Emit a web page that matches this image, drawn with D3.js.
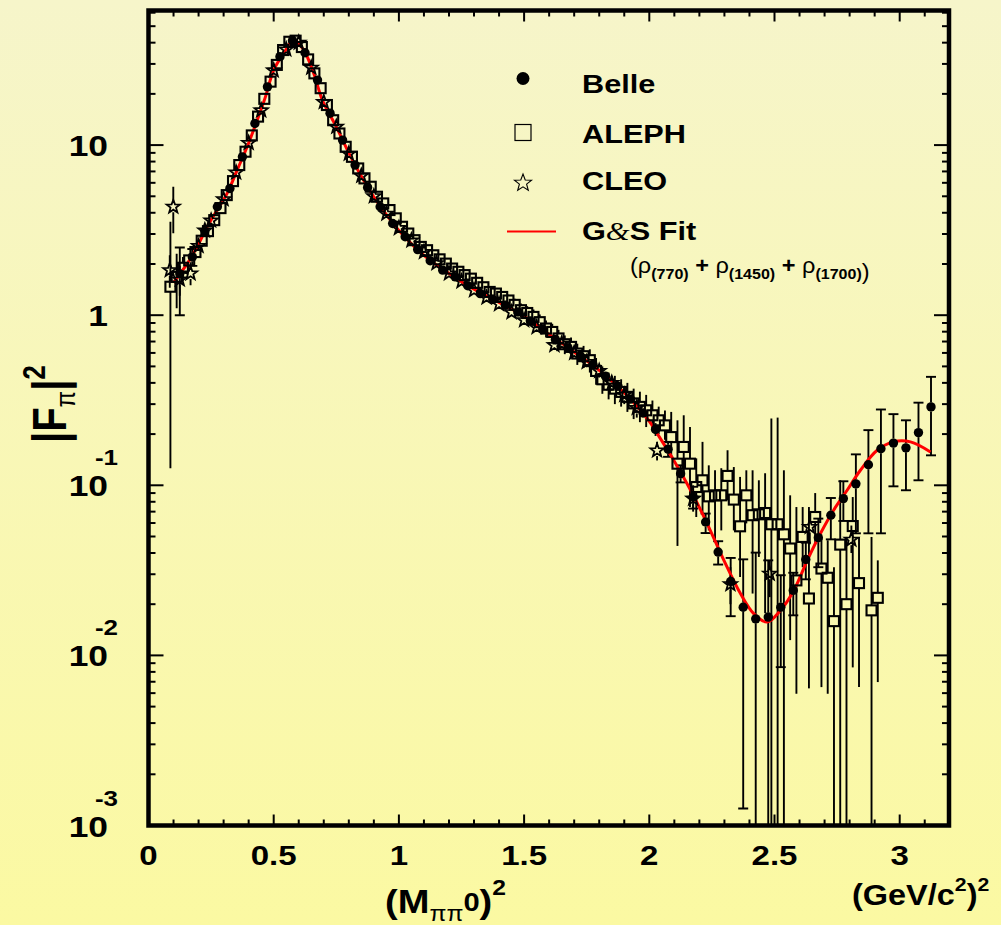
<!DOCTYPE html>
<html><head><meta charset="utf-8">
<script src="https://cdn.jsdelivr.net/npm/d3@7"></script>
<style>html,body{margin:0;padding:0;} svg{display:block;}</style>
</head><body><svg id="c" width="1001" height="925"></svg>
<script>
// ---------------- data ----------------
const fitX=[0.10,0.125,0.155,0.194,0.234,0.274,0.314,0.354,0.394,0.434,0.467,0.500,0.540,0.580,0.620,0.660,0.694,0.75,0.80,0.85,0.90,0.95,1.00,1.10,1.20,1.30,1.40,1.50,1.60,1.70,1.80,1.90,2.00,2.032,2.098,2.165,2.231,2.298,2.364,2.417,2.471,2.524,2.577,2.631,2.684,2.736,2.790,2.843,2.910,2.975,3.043,3.123];
const fitY=[1.55,1.75,2.01,2.52,3.3,4.15,5.2,7.13,9.77,14.0,19.2,27.6,34.6,41.5,36.2,26.4,18.4,12.8,9.0,6.55,4.95,3.9,3.15,2.25,1.76,1.42,1.19,0.985,0.77,0.608,0.474,0.35,0.238,0.201,0.140,0.0935,0.0596,0.0362,0.0231,0.0176,0.0157,0.0184,0.0241,0.0362,0.0522,0.0713,0.0935,0.1226,0.1607,0.18,0.18,0.157];

const belleX=[0.125,0.175,0.225,0.275,0.325,0.375,0.425,0.475,0.525,0.575,0.625,0.675,0.725,0.775,0.825,0.875,0.925,0.975,1.025,1.075,1.125,1.175,1.225,1.275,1.325,1.375,1.425,1.475,1.525,1.575,1.625,1.675,1.725,1.775,1.825,1.875,1.925,1.975,2.025,2.075,2.125,2.175,2.225,2.275,2.325,2.375,2.425,2.475,2.525,2.575,2.625,2.675,2.725,2.775,2.825,2.875,2.925,2.975,3.025,3.075,3.125];
const belleY=[1.75,2.2,3.1,4.34,5.56,8.53,13.4,22.0,33.1,41.1,34.9,24.1,15.4,10.7,7.63,5.64,4.34,3.46,2.89,2.43,2.09,1.84,1.68,1.49,1.34,1.237,1.145,1.046,0.926,0.824,0.72,0.645,0.574,0.513,0.438,0.382,0.321,0.266,0.213,0.163,0.117,0.0853,0.0608,0.0405,0.0272,0.0192,0.0164,0.0168,0.0192,0.0241,0.0366,0.0492,0.0667,0.0835,0.102,0.132,0.164,0.177,0.166,0.204,0.289];
const belleLo=[1.0,1.95,2.95,4.2,5.45,8.4,13.2,21.7,32.7,40.6,34.5,23.8,15.2,10.55,7.5,5.55,4.27,3.4,2.84,2.39,2.05,1.81,1.65,1.46,1.31,1.21,1.12,1.02,0.90,0.80,0.70,0.625,0.555,0.495,0.42,0.365,0.305,0.25,0.195,0.147,0.104,0.073,0.0524,0.0342,0.017,0.00126,0.0001,0.0001,0.00853,0.0172,0.028,0.033,0.0481,0.0617,0.0522,0.0522,0.0522,0.0986,0.0935,0.107,0.15];
const belleHi=[2.5,2.45,3.25,4.5,5.7,8.7,13.6,22.3,33.5,41.6,35.3,24.4,15.6,10.85,7.75,5.73,4.41,3.52,2.94,2.47,2.13,1.87,1.71,1.52,1.37,1.265,1.17,1.07,0.95,0.85,0.74,0.665,0.593,0.531,0.456,0.40,0.337,0.282,0.232,0.18,0.131,0.098,0.0682,0.0469,0.0374,0.0367,0.0402,0.0362,0.0296,0.0306,0.046,0.0637,0.0842,0.1056,0.152,0.211,0.279,0.262,0.241,0.306,0.434];

const alephX=[0.0875,0.1125,0.1375,0.1625,0.1875,0.2125,0.2375,0.2625,0.2875,0.3125,0.3375,0.3625,0.3875,0.4125,0.4375,0.4625,0.4875,0.5125,0.5375,0.5625,0.5875,0.6125,0.6375,0.6625,0.6875,0.7125,0.7375,0.7625,0.7875,0.8125,0.8375,0.8625,0.8875,0.9125,0.9375,0.9625,0.9875,1.0125,1.0375,1.0625,1.0875,1.1125,1.1375,1.1625,1.1875,1.2125,1.2375,1.2625,1.2875,1.3125,1.3375,1.3625,1.3875,1.4125,1.4375,1.4625,1.4875,1.5125,1.5375,1.5625,1.5875,1.6125,1.6375,1.6625,1.6875,1.7125,1.7375,1.7625,1.7875,1.8125,1.8375,1.8625,1.8875,1.9125,1.9375,1.9625,1.9875,2.0125,2.0375,2.0625,2.0875,2.1125,2.1375,2.1625,2.1875,2.2125,2.2375,2.2625,2.2875,2.3125,2.3375,2.3625,2.3875,2.4125,2.4375,2.4625,2.4875,2.5125,2.5375,2.5625,2.5875,2.6125,2.6375,2.6625,2.6875,2.7125,2.7375,2.7625,2.7875,2.8125,2.8375,2.8875,2.9125];
const alephY=[1.47,1.68,1.9,2.1,2.35,2.74,3.12,3.62,4.26,5.08,6.14,7.63,9.14,11.4,14.7,18.7,23.6,29.6,36.2,40.5,41.1,37.7,31.9,26.4,21.6,17.2,14.0,11.7,9.77,8.53,7.29,6.37,5.69,4.97,4.54,4.15,3.71,3.31,3.02,2.76,2.52,2.41,2.25,2.13,2.01,1.88,1.80,1.72,1.64,1.55,1.46,1.37,1.34,1.28,1.22,1.15,1.07,1.03,0.977,0.91,0.835,0.797,0.73,0.675,0.651,0.595,0.574,0.544,0.47,0.42,0.39,0.37,0.354,0.331,0.303,0.289,0.276,0.258,0.241,0.225,0.192,0.134,0.168,0.134,0.0977,0.107,0.0861,0.0873,0.0873,0.1135,0.0824,0.0574,0.0873,0.0667,0.0675,0.0687,0.059,0.059,0.0515,0.0425,0.0276,0.0497,0.0216,0.0651,0.0324,0.0286,0.0159,0.0448,0.02,0.0576,0.0266,0.0184,0.0218];
const alephLo=[0.126,1.1,1.6,1.95,2.25,2.65,3.03,3.52,4.15,4.95,6.0,7.45,8.95,11.2,14.4,18.4,23.2,29.1,35.6,39.9,40.5,37.1,31.4,26.0,21.2,16.9,13.75,11.45,9.55,8.33,7.1,6.2,5.53,4.82,4.4,4.02,3.59,3.2,2.92,2.66,2.43,2.32,2.16,2.04,1.92,1.79,1.71,1.63,1.55,1.46,1.37,1.28,1.24,1.18,1.12,1.05,0.97,0.93,0.87,0.81,0.74,0.70,0.64,0.59,0.56,0.51,0.49,0.46,0.39,0.345,0.32,0.30,0.29,0.27,0.245,0.235,0.22,0.21,0.2,0.185,0.1466,0.044,0.112,0.0745,0.0651,0.0687,0.0543,0.0475,0.0543,0.0816,0.0543,0.0289,0.0597,0.0231,0.0379,0.0177,0.0001,0.0001,0.0001,0.0123,0.00595,0.033,0.0064,0.045,0.00651,0.00595,0.0001,0.0001,0.0001,0.0085,0.00651,0.0001,0.00697];
const alephHi=[3.54,2.3,2.2,2.25,2.45,2.83,3.21,3.72,4.37,5.21,6.28,7.81,9.33,11.6,15.0,19.0,24.0,30.1,36.8,41.1,41.7,38.3,32.4,26.8,22.0,17.5,14.25,11.95,9.99,8.73,7.48,6.54,5.85,5.12,4.68,4.28,3.83,3.42,3.12,2.86,2.61,2.5,2.34,2.22,2.1,1.97,1.89,1.81,1.73,1.64,1.55,1.46,1.44,1.38,1.32,1.25,1.17,1.13,1.08,1.01,0.93,0.89,0.82,0.76,0.74,0.68,0.66,0.63,0.56,0.5,0.46,0.44,0.42,0.40,0.37,0.355,0.34,0.315,0.29,0.275,0.27,0.241,0.258,0.22,0.144,0.18,0.131,0.1225,0.126,0.1607,0.128,0.112,0.1225,0.1225,0.107,0.1177,0.247,0.25,0.1225,0.0873,0.0745,0.0745,0.0745,0.09,0.0497,0.0475,0.033,0.107,0.0497,0.0853,0.0497,0.0497,0.0362];

const cleoX=[0.085,0.099,0.125,0.168,0.2,0.225,0.25,0.3,0.35,0.4,0.45,0.5,0.55,0.6,0.65,0.7,0.75,0.8,0.85,0.9,0.95,1.0,1.05,1.1,1.15,1.2,1.25,1.3,1.35,1.4,1.45,1.5,1.55,1.621,1.65,1.7,1.75,1.8,1.85,1.9,1.95,2.031,2.175,2.324,2.481,2.641,2.807];
const cleoY=[1.84,4.34,1.62,1.76,2.55,3.15,3.6,4.8,6.9,10.3,16.0,27.5,36.5,40.0,28.5,17.9,12.8,8.9,6.6,5.0,3.95,3.25,2.75,2.35,2.02,1.76,1.58,1.40,1.27,1.16,1.04,0.935,0.85,0.667,0.68,0.60,0.53,0.47,0.40,0.34,0.285,0.16,0.0835,0.0262,0.0302,0.0569,0.0479];
const cleoLo=[1.45,3.03,1.3,1.5,2.4,3.0,3.45,4.65,6.7,10.0,15.6,26.9,35.8,39.2,27.9,17.5,12.5,8.7,6.45,4.88,3.85,3.17,2.68,2.29,1.97,1.71,1.53,1.36,1.23,1.12,1.0,0.90,0.81,0.63,0.64,0.56,0.49,0.43,0.36,0.30,0.25,0.14,0.07,0.02,0.022,0.045,0.04];
const cleoHi=[2.25,5.69,1.95,2.05,2.7,3.3,3.75,4.95,7.1,10.6,16.4,28.1,37.2,40.8,29.1,18.3,13.1,9.1,6.75,5.12,4.05,3.33,2.82,2.41,2.07,1.81,1.63,1.44,1.31,1.2,1.08,0.97,0.89,0.70,0.72,0.64,0.57,0.51,0.44,0.38,0.32,0.18,0.1,0.033,0.036,0.07,0.058];

const xMajor=[0,0.5,1,1.5,2,2.5,3];
const xMajorLabels=["0","0.5","1","1.5","2","2.5","3"];
const yDecades=[1e-3,1e-2,1e-1,1,10];
const yBaseLabels=["10","10","10","1","10"];
const yExpLabels=["-3","-2","-1","",""];
const legendNames=["Belle","ALEPH","CLEO","G&S Fit"];

// ---------------- layout ----------------
const W=1001,H=925;
const L=148.5,R=949,T=10.5,B=825.5;
const SX=1.18;
const FONT="'Liberation Sans', Arial, Helvetica, sans-serif";
const svg=d3.select("#c");

const defs=svg.append("defs");
const grad=defs.append("linearGradient").attr("id","bg").attr("x1",0).attr("y1",0).attr("x2",0).attr("y2",1);
grad.append("stop").attr("offset","0%").attr("stop-color","#F6F5CA");
grad.append("stop").attr("offset","100%").attr("stop-color","#FBF9A2");
svg.append("rect").attr("width",W).attr("height",H).attr("fill","url(#bg)");
defs.append("clipPath").attr("id","clip").append("rect").attr("x",L).attr("y",T).attr("width",R-L).attr("height",B-T);

const x=d3.scaleLinear().domain([0,3.2]).range([L,L+3.2*250.4]);
const y=d3.scaleLog().domain([1e-3,Math.pow(10,1+(145-T)/170)]).range([B,T]);

// ticks
const tk=svg.append("g").attr("stroke","#000").attr("stroke-width",2);
d3.range(0,33).forEach(i=>{
  const v=i/10, maj=(i%5===0), len=maj?11:6, px=x(v);
  if(px>R-2) return;
  tk.append("line").attr("x1",px).attr("x2",px).attr("y1",B).attr("y2",B-len);
  tk.append("line").attr("x1",px).attr("x2",px).attr("y1",T).attr("y2",T+len);
});
const yDom=y.domain();
for(let e=-3;e<=1;e++){
  for(let m=1;m<=9;m++){
    const v=m*Math.pow(10,e);
    if(v<yDom[0]||v>yDom[1]) continue;
    const py=y(v), len=(m===1)?15:7;
    tk.append("line").attr("x1",L).attr("x2",L+len).attr("y1",py).attr("y2",py);
    tk.append("line").attr("x1",R).attr("x2",R-len).attr("y1",py).attr("y2",py);
  }
}

function txt(xp,yp,str,size,anchor,weight,sx){
  return svg.append("text").attr("transform",`translate(${xp},${yp}) scale(${sx||SX},1)`)
    .attr("text-anchor",anchor||"start").attr("font-family",FONT).attr("font-weight",weight||"bold")
    .attr("font-size",size).attr("fill","#000").text(str);
}
// x tick labels
xMajor.forEach((v,i)=>txt(x(v),865,xMajorLabels[i],28,"middle"));
// y tick labels
yDecades.forEach((v,i)=>{
  const py=y(v);
  const by = (i===0)? 837 : py+11;
  txt(108,by,yBaseLabels[i],30,"end");
  if(yExpLabels[i]) txt(118,py-20,yExpLabels[i],22,"end");
});

// plot content
const pg=svg.append("g").attr("clip-path","url(#clip)");
function errs(xs,ys,lo,hi,gap,cap){
  const g=pg.append("g").attr("stroke","#000").attr("stroke-width",1.9);
  xs.forEach((v,i)=>{
    const px=x(v), py=y(ys[i]), pl=y(lo[i]), ph=y(hi[i]);
    if(ph<py-gap) g.append("line").attr("x1",px).attr("x2",px).attr("y1",ph).attr("y2",py-gap);
    if(pl>py+gap) g.append("line").attr("x1",px).attr("x2",px).attr("y1",py+gap).attr("y2",pl);
    if(cap && py-ph>gap+2){
      g.append("line").attr("x1",px-cap).attr("x2",px+cap).attr("y1",ph).attr("y2",ph);
      g.append("line").attr("x1",px-cap).attr("x2",px+cap).attr("y1",pl).attr("y2",pl);
    }
  });
}
errs(alephX,alephY,alephLo,alephHi,5,0);
errs(cleoX,cleoY,cleoLo,cleoHi,5.5,0);
errs(belleX,belleY,belleLo,belleHi,4.5,5);

const line=d3.line().x((d,i)=>x(fitX[i])).y((d,i)=>y(fitY[i])).curve(d3.curveCatmullRom.alpha(0.5));
pg.append("path").attr("d",line(fitX)).attr("fill","none").attr("stroke","#FF0000").attr("stroke-width",3);

function starPath(cx,cy,ro,ri){
  const pts=[];
  for(let k=0;k<10;k++){
    const a=-Math.PI/2+k*Math.PI/5, r=(k%2)?ri:ro;
    pts.push([cx+r*Math.cos(a),cy+r*Math.sin(a)]);
  }
  return "M"+pts.map(p=>p[0].toFixed(2)+","+p[1].toFixed(2)).join("L")+"Z";
}
// markers
pg.append("g").selectAll("rect").data(alephX).join("rect")
  .attr("x",(d)=>x(d)-5).attr("y",(d,i)=>y(alephY[i])-5).attr("width",10).attr("height",10)
  .attr("fill","none").attr("stroke","#000").attr("stroke-width",2.1);
pg.append("g").selectAll("path").data(cleoX).join("path")
  .attr("d",(d,i)=>starPath(x(d),y(cleoY[i]),7,2.9))
  .attr("fill","none").attr("stroke","#000").attr("stroke-width",1.8);
pg.append("g").selectAll("circle").data(belleX).join("circle")
  .attr("cx",d=>x(d)).attr("cy",(d,i)=>y(belleY[i])).attr("r",4.7).attr("fill","#000");

// frame
svg.append("rect").attr("x",L).attr("y",T).attr("width",R-L).attr("height",B-T)
  .attr("fill","none").attr("stroke","#000").attr("stroke-width",4.5);

// legend
const lx=523;
svg.append("circle").attr("cx",lx).attr("cy",78.5).attr("r",6.5).attr("fill","#000");
svg.append("rect").attr("x",lx-8).attr("y",124.5).attr("width",16).attr("height",16).attr("fill","none").attr("stroke","#000").attr("stroke-width",1.2);
svg.append("path").attr("d",starPath(lx,183,9,3.8)).attr("fill","none").attr("stroke","#000").attr("stroke-width",1.1);
svg.append("line").attr("x1",507).attr("x2",556).attr("y1",231.5).attr("y2",231.5).attr("stroke","#FF0000").attr("stroke-width",2.2);
txt(582,93,legendNames[0],26);
txt(582,142.5,legendNames[1],26);
txt(582,190,legendNames[2],26);
const gs=txt(582,240,"",26);
gs.append("tspan").text("G");
gs.append("tspan").attr("font-family","'Liberation Serif', 'Times New Roman', serif").attr("font-weight","normal").attr("font-style","italic").text("&");
gs.append("tspan").text("S Fit");
// sub-caption
const sc=txt(630,273,"",22,"start","normal",1.07);
function rho(t,sub,tail){
  t.append("tspan").attr("dy",0).text("ρ");
  t.append("tspan").attr("font-size",15).attr("font-weight","bold").attr("dy",6).text(sub);
  t.append("tspan").attr("dy",-6).attr("font-weight","bold").text(tail);
}
sc.append("tspan").text("(");
rho(sc,"(770)"," + ");
rho(sc,"(1450)"," + ");
rho(sc,"(1700)","");
sc.append("tspan").attr("font-weight","normal").text(")");

// axis titles
const xt=txt(385,913,"",34,"start","bold",1.12);
xt.append("tspan").text("(M");
xt.append("tspan").attr("font-size",22).attr("font-weight","normal").attr("dy",8).text("ππ");
xt.append("tspan").attr("font-size",26).attr("dy",-10).text("0");
xt.append("tspan").attr("dy",2).text(")");
xt.append("tspan").attr("font-size",22).attr("dy",-18).text("2");

const ut=txt(852,905,"",29,"start","bold",1.12);
ut.append("tspan").text("(GeV/c");
ut.append("tspan").attr("font-size",19).attr("dy",-14).text("2");
ut.append("tspan").attr("dy",14).text(")");
ut.append("tspan").attr("font-size",19).attr("dy",-14).text("2");

const yt=svg.append("text").attr("transform","translate(66,443) rotate(-90) scale(1,1.18)")
  .attr("font-family",FONT).attr("font-weight","bold").attr("font-size",40).attr("fill","#000");
yt.append("tspan").text("|F");
yt.append("tspan").attr("font-size",24).attr("font-weight","normal").attr("dy",8).text("π");
yt.append("tspan").attr("dy",-8).text("|");
yt.append("tspan").attr("font-size",26).attr("dy",-18).text("2");
</script></body></html>
